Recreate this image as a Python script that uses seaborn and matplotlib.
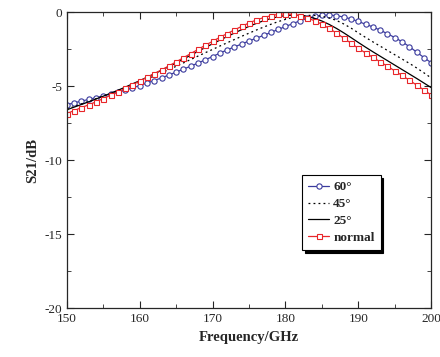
import numpy as np
import pandas as pd
import matplotlib
matplotlib.use("Agg")
import matplotlib.pyplot as plt
from matplotlib.ticker import MultipleLocator
import seaborn as sns

freq = np.arange(150, 201, 1)

s21_60 = [-6.25, -6.13, -6.01, -5.90, -5.78, -5.66, -5.53, -5.40, -5.27, -5.12,
          -4.96, -4.79, -4.62, -4.44, -4.25, -4.05, -3.85, -3.65, -3.44, -3.22,
          -3.00, -2.77, -2.55, -2.35, -2.15, -1.95, -1.76, -1.57, -1.37, -1.17,
          -0.97, -0.78, -0.58, -0.41, -0.29, -0.22, -0.20, -0.24, -0.33, -0.46,
          -0.63, -0.82, -1.00, -1.22, -1.46, -1.72, -2.00, -2.33, -2.70, -3.07,
          -3.42]
s21_45 = [-6.55, -6.38, -6.20, -6.03, -5.85, -5.67, -5.49, -5.30, -5.11, -4.91,
          -4.72, -4.52, -4.31, -4.10, -3.88, -3.66, -3.43, -3.20, -2.97, -2.74,
          -2.52, -2.29, -2.07, -1.85, -1.63, -1.42, -1.21, -1.01, -0.82, -0.64,
          -0.49, -0.36, -0.27, -0.22, -0.22, -0.28, -0.39, -0.56, -0.80, -1.08,
          -1.40, -1.71, -2.01, -2.30, -2.59, -2.88, -3.17, -3.46, -3.77, -4.10,
          -4.45]
s21_25 = [-6.60, -6.42, -6.24, -6.06, -5.87, -5.68, -5.48, -5.28, -5.07, -4.85,
          -4.63, -4.40, -4.17, -3.93, -3.68, -3.43, -3.17, -2.91, -2.65, -2.39,
          -2.14, -1.89, -1.65, -1.41, -1.18, -0.96, -0.76, -0.58, -0.43, -0.31,
          -0.23, -0.20, -0.22, -0.30, -0.42, -0.60, -0.83, -1.10, -1.40, -1.72,
          -2.05, -2.37, -2.68, -2.98, -3.28, -3.58, -3.88, -4.18, -4.48, -4.79,
          -5.10]
s21_normal = [-6.85, -6.65, -6.45, -6.26, -6.06, -5.84, -5.62, -5.39, -5.16, -4.91,
              -4.66, -4.40, -4.15, -3.90, -3.63, -3.36, -3.08, -2.80, -2.52, -2.24,
              -1.97, -1.70, -1.45, -1.20, -0.96, -0.73, -0.53, -0.37, -0.24, -0.15,
              -0.12, -0.15, -0.25, -0.40, -0.58, -0.82, -1.10, -1.42, -1.76, -2.10,
              -2.45, -2.76, -3.06, -3.36, -3.66, -3.97, -4.28, -4.60, -4.93, -5.26,
              -5.60]

labels = ["60°", "45°", "25°", "normal"]

sns.set_style("ticks")
plt.rcParams['font.family'] = ['Liberation Serif', 'DejaVu Serif']
plt.rcParams['axes.unicode_minus'] = False

df = pd.DataFrame({
    'freq': np.tile(freq, 4),
    's21': np.concatenate([s21_60, s21_45, s21_25, s21_normal]),
    'angle': np.repeat(labels, len(freq)),
})

fig, ax = plt.subplots(figsize=(4.4, 3.57), dpi=100)
fig.subplots_adjust(left=0.152, right=0.98, top=0.966, bottom=0.137)

styles = {
    "60°": dict(color='#3b3b9e', linestyle='-', marker='o', markersize=3.8,
                markerfacecolor='white', markeredgecolor='#3b3b9e', markeredgewidth=0.8),
    "45°": dict(color='black', linestyle=(0, (1.5, 2.5)), marker=None),
    "25°": dict(color='black', linestyle='-', marker=None),
    "normal": dict(color='#e8262a', linestyle='-', marker='s', markersize=3.6,
                   markerfacecolor='white', markeredgecolor='#e8262a', markeredgewidth=0.8),
}

for lab in labels:
    sub = df[df['angle'] == lab]
    sns.lineplot(data=sub, x='freq', y='s21', ax=ax, label=lab, linewidth=0.9,
                 **styles[lab])

ax.set_xlim(150, 200)
ax.set_ylim(-20, 0)
ax.xaxis.set_major_locator(MultipleLocator(10))
ax.xaxis.set_minor_locator(MultipleLocator(5))
ax.yaxis.set_major_locator(MultipleLocator(5))
ax.yaxis.set_minor_locator(MultipleLocator(2.5))
ax.tick_params(which='both', direction='in', top=True, right=True, labelsize=9.5)
ax.tick_params(which='major', length=5)
ax.tick_params(which='minor', length=3)
for sp in ax.spines.values():
    sp.set_linewidth(0.9)

ax.set_xlabel('Frequency/GHz', fontsize=10.5, fontweight='bold')
ax.set_ylabel('S21/dB', fontsize=10.5, fontweight='bold')

leg = ax.legend(loc='upper left', bbox_to_anchor=(0.646, 0.449), borderaxespad=0,
                frameon=True, fancybox=False, shadow={'color': 'black', 'alpha': 1},
                prop={'weight': 'bold', 'size': 9.5}, handlelength=1.6,
                labelspacing=0.35, borderpad=0.45, handletextpad=0.3)
leg.get_frame().set_edgecolor('black')
leg.get_frame().set_linewidth(0.8)

plt.savefig('out.png', dpi=100)
